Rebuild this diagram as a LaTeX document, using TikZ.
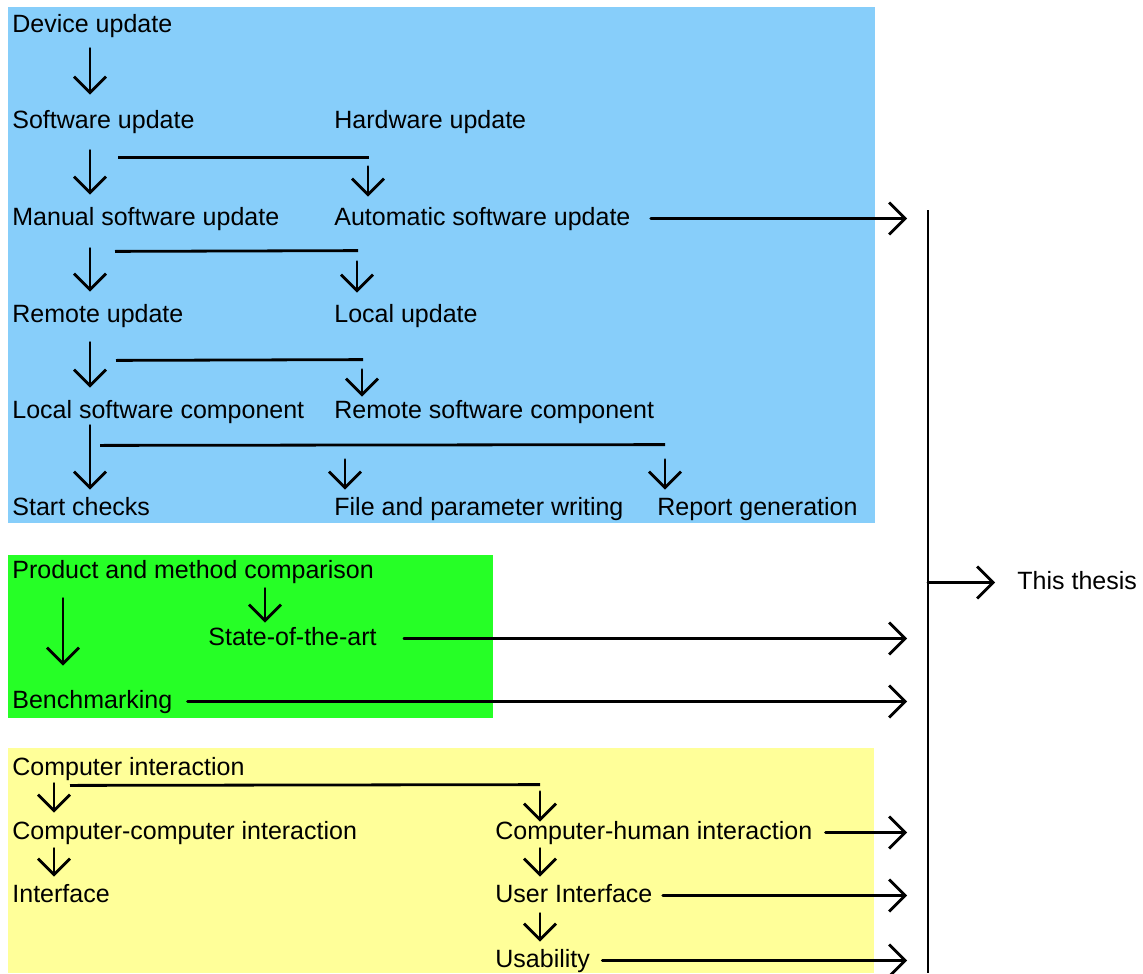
\documentclass[tikz,border=0pt]{standalone}
\usepackage{fontspec}
\setmainfont{Liberation Sans}
\usetikzlibrary{arrows.meta,calc}
\definecolor{updateBlue}{RGB}{135,206,250}
\definecolor{compareGreen}{RGB}{38,255,38}
\definecolor{interactYellow}{RGB}{255,255,153}
\tikzset{
  lbl/.style={anchor=base west,inner sep=0pt,text height=9pt,text depth=2.5pt},
  arr/.style={-{Straight Barb[length=8pt,width=16pt]},line width=1.4pt,line cap=round},
  ln/.style={line width=1.4pt}
}

\begin{document}
\begin{tikzpicture}[x=0.5pt,y=-0.5pt,every node/.style={font=\fontsize{12.5}{15}\selectfont}]
  \useasboundingbox (0,0) rectangle (1143,973);
  % coloured areas
  \fill[updateBlue](8,7) rectangle (875,523);
  \fill[compareGreen](8,555) rectangle (493,718);
  \fill[interactYellow](8,748) rectangle (874,973);

  % device update tree
  \node[lbl] (dev) at (12,33){Device update};
  \node[lbl] (sw) at (12,129){Software update};
  \node[lbl] (hw) at (334,129){Hardware update};
  \node[lbl] (man) at (12,225){Manual software update};
  \node[lbl] (auto) at (334,225){Automatic software update};
  \node[lbl] (rem) at (12,322){Remote update};
  \node[lbl] (loc) at (334,322){Local update};
  \node[lbl] (lsc) at (12,418){Local software component};
  \node[lbl] (rsc) at (334,418){Remote software component};
  \node[lbl] (start) at (12,515){Start checks};
  \node[lbl] (file) at (334,515){File and parameter writing};
  \node[lbl] (rep) at (657,515){Report generation};
  \foreach \a/\b/\s/\e in {dev/sw/10/-16,sw/man/16/-12,man/rem/18/-12,rem/lsc/15/-12,lsc/start/2/-7}{
    \draw[arr]($(\a.south west)+(78,\s)$)--($(\b.north west)+(78,\e)$);
  }
  \draw[ln]($(sw.south west)+(106,23)$)--($(hw.south west)+(35,23)$);
  \draw[arr]($(auto.north west)+(34,-40)$)--($(auto.north west)+(34,-10)$);
  \draw[ln]($(man.south west)+(103,21)$)--($(loc.north west)+(24,-53)$);
  \draw[arr]($(loc.north west)+(23,-42)$)--($(loc.north west)+(23,-11)$);
  \draw[ln]($(rem.south west)+(104,33)$)--($(rsc.north west)+(29,-40)$);
  \draw[arr]($(rsc.north west)+(28,-30)$)--($(rsc.north west)+(28,-3)$);
  \draw[ln]($(lsc.south west)+(88,22)$)--($(rep.north west)+(8,-52)$);
  \draw[arr]($(file.north west)+(11,-37)$)--($(file.north west)+(11,-7)$);
  \draw[arr]($(rep.north west)+(8,-37)$)--($(rep.north west)+(8,-7)$);

  % comparison
  \node[lbl] (pmc) at (12,578){Product and method comparison};
  \node[lbl] (sota) at (208,645){State-of-the-art};
  \node[lbl] (bench) at (12,708){Benchmarking};
  \draw[arr]($(pmc.south west)+(51,15)$)--($(bench.north west)+(51,-24)$);
  \draw[arr]($(pmc.south west)+(253,5)$)--($(sota.north west)+(57,-4)$);

  % interaction
  \node[lbl] (ci) at (12,775){Computer interaction};
  \node[lbl] (cci) at (12,839){Computer-computer interaction};
  \node[lbl] (intf) at (12,902){Interface};
  \node[lbl] (chi) at (495,839){Computer-human interaction};
  \node[lbl] (ui) at (495,902){User Interface};
  \node[lbl] (usab) at (495,967){Usability};
  \draw[arr]($(ci.south west)+(42,3)$)--($(cci.north west)+(42,-8)$);
  \draw[ln]($(ci.south west)+(58,5)$)--($(chi.north west)+(45,-36)$);
  \draw[arr]($(chi.north west)+(45,-29)$)--($(chi.north west)+(45,1)$);
  \draw[arr]($(cci.south west)+(42,4)$)--($(intf.north west)+(42,-7)$);
  \draw[arr]($(chi.south west)+(45,4)$)--($(ui.north west)+(45,-7)$);
  \draw[arr]($(ui.south west)+(45,6)$)--($(usab.north west)+(45,-7)$);

  % collecting bar
  \coordinate (bartop) at (928,210);
  \coordinate (barbot) at (928,973);
  \draw[ln](bartop)--(barbot);
  \foreach \n/\g in {auto/10pt,sota/13.5pt,bench/7.5pt,chi/6.5pt,ui/5pt,usab/6pt}{
    \draw[arr,shorten >=10.5pt]([xshift=\g]\n.east)--(\n.east -| bartop);
  }
  \node[lbl] (thesis) at (1017,589){This thesis};
  \draw[arr](bartop |- thesis.west)--([xshift=-11pt]thesis.west);
\end{tikzpicture}
\end{document}
